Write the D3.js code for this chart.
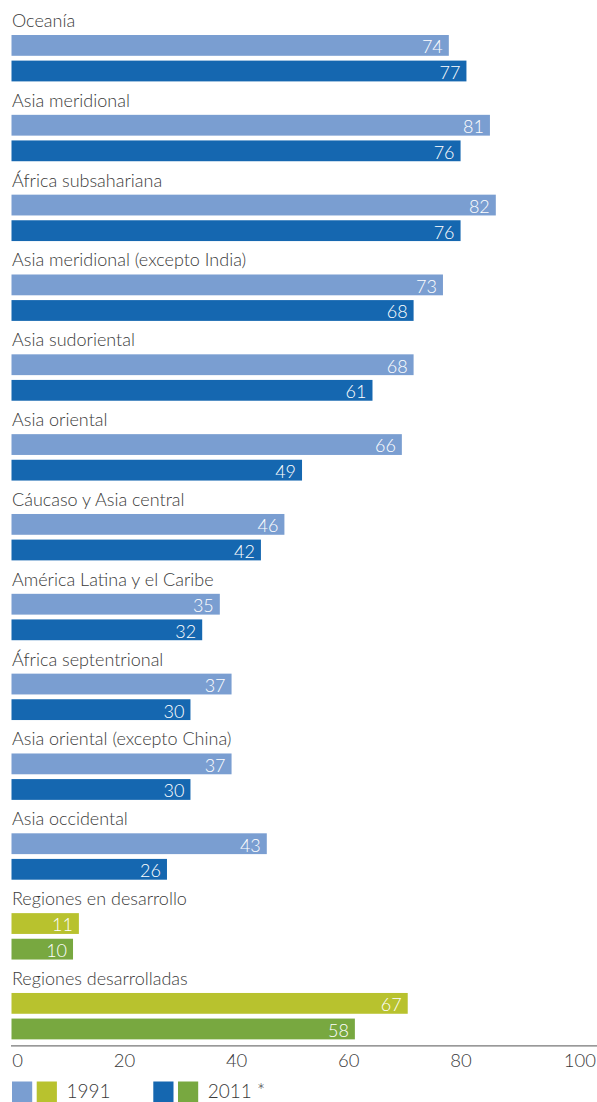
<!DOCTYPE html>
<html>
<head>
<meta charset="utf-8">
<script src="https://cdn.jsdelivr.net/npm/d3@7"></script>
<style>
  html, body { margin: 0; padding: 0; background: #fff; }
  svg { display: block; }
  text { font-family: Lato, "Open Sans", sans-serif; }
</style>
</head>
<body>
<svg id="chart" width="597" height="1102"></svg>
<script>
const categories = [
  "Oceanía",
  "Asia meridional",
  "África subsahariana",
  "Asia meridional (excepto India)",
  "Asia sudoriental",
  "Asia oriental",
  "Cáucaso y Asia central",
  "América Latina y el Caribe",
  "África septentrional",
  "Asia oriental (excepto China)",
  "Asia occidental",
  "Regiones en desarrollo",
  "Regiones desarrolladas"
];
const values1991 = [74, 81, 82, 73, 68, 66, 46, 35, 37, 37, 43, 11, 67];
const values2011 = [77, 76, 76, 68, 61, 49, 42, 32, 30, 30, 26, 10, 58];
const aggregateGroup = [false, false, false, false, false, false, false, false, false, false, false, true, true];
const axisTicks = [0, 20, 40, 60, 80, 100];
const legendLabels = ["1991", "2011 *"];

const colors = {
  light: "#7a9ed1",
  dark: "#1567b0",
  lime: "#b8c22e",
  green: "#78a840",
  text: "#3a3a3a",
  axis: "#777777"
};

const svg = d3.select("#chart");
const barLeft = 11.5;
const xBar = d3.scaleLinear().domain([0, 100]).range([14.3, 601.5]);
const xAxisScale = d3.scaleLinear().domain([0, 100]).range([11.8, 572.6]);
const y = d3.scaleBand().domain(categories).range([8, 1045.8]).paddingInner(0).paddingOuter(0);

const barH = 20.8;
const off1 = 27;
const off2 = 52.6;

const rows = categories.map((c, i) => ({
  cat: c, v1: values1991[i], v2: values2011[i], agg: aggregateGroup[i]
}));

const g = svg.append("g");

const row = g.selectAll("g.row").data(rows).join("g")
  .attr("class", "row")
  .attr("transform", d => `translate(0,${y(d.cat)})`);

row.append("text")
  .attr("x", 12)
  .attr("y", 19)
  .attr("fill", colors.text)
  .attr("font-size", 18)
  .attr("font-weight", 300)
  .text(d => d.cat);

[[off1, "v1", d => d.agg ? colors.lime : colors.light],
 [off2, "v2", d => d.agg ? colors.green : colors.dark]].forEach(([off, key, col]) => {
  row.append("rect")
    .attr("x", barLeft)
    .attr("y", off)
    .attr("width", d => xBar(d[key]) - barLeft)
    .attr("height", barH)
    .attr("fill", col);
  row.append("text")
    .attr("x", d => xBar(d[key]) - 6)
    .attr("y", off + 18.3)
    .attr("text-anchor", "end")
    .attr("fill", "#ffffff")
    .attr("font-size", 18)
    .attr("font-weight", 300)
    .text(d => d[key]);
});

// Axis
const axisY = 1045.8;
const axisG = svg.append("g").attr("transform", `translate(0,${axisY})`)
  .call(d3.axisBottom(xAxisScale).tickValues(axisTicks).tickSize(0).tickPadding(0).tickFormat(d3.format("d")));
axisG.select(".domain").remove();
axisG.append("line")
  .attr("x1", 11).attr("x2", 597)
  .attr("y1", 0).attr("y2", 0)
  .attr("stroke", colors.axis).attr("stroke-width", 1.3);
axisG.selectAll(".tick text")
  .attr("fill", colors.text)
  .attr("font-size", 18.5)
  .attr("font-weight", 300)
  .attr("font-family", "Lato, 'Open Sans', sans-serif")
  .attr("dy", null)
  .attr("y", 21)
  .attr("text-anchor", (d, i) => i === 0 ? "start" : (i === axisTicks.length - 1 ? "end" : "middle"))
  .attr("dx", (d, i) => i === axisTicks.length - 1 ? 22.8 : 0);

// Legend
const legend = svg.append("g").attr("transform", "translate(0,1081.5)");
const legendItems = [
  { label: legendLabels[0], cols: [colors.light, colors.lime], x: 12 },
  { label: legendLabels[1], cols: [colors.dark, colors.green], x: 153.3 }
];
legendItems.forEach(it => {
  it.cols.forEach((c, j) => {
    legend.append("rect")
      .attr("x", it.x + j * 24.7)
      .attr("y", 0)
      .attr("width", 20.2)
      .attr("height", 20.5)
      .attr("fill", c);
  });
  legend.append("text")
    .attr("x", it.x + 54.5)
    .attr("y", 16.5)
    .attr("fill", colors.text)
    .attr("font-size", 19)
    .attr("font-weight", 300)
    .text(it.label);
});
</script>
</body>
</html>
